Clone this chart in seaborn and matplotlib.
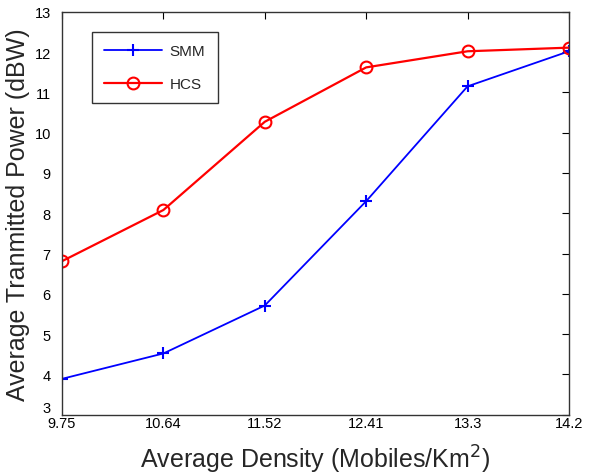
import matplotlib
matplotlib.use("Agg")
import matplotlib.pyplot as plt
import seaborn as sns
import pandas as pd
import numpy as np

density_labels = ["9.75", "10.64", "11.52", "12.41", "13.3", "14.2"]
smm_power = [3.89, 4.52, 5.71, 8.30, 11.15, 12.02]
hcs_power = [6.81, 8.08, 10.27, 11.62, 12.02, 12.11]

sns.set_style("white")
plt.rcParams['font.family'] = ['Liberation Sans', 'DejaVu Sans']

pos = np.arange(len(density_labels))
df = pd.DataFrame({
    "pos": np.concatenate([pos, pos]),
    "power": smm_power + hcs_power,
    "series": ["SMM"] * len(pos) + ["HCS"] * len(pos),
})

fig = plt.figure(figsize=(6.0, 4.77), dpi=100)
ax = fig.add_axes([0.1033, 0.1285, 0.845, 0.8447])

sns.lineplot(data=df[df.series == "SMM"], x="pos", y="power", ax=ax,
             color="#0000ff", marker="+", markersize=9, markeredgewidth=1.5,
             markeredgecolor="#0000ff", linewidth=1.3, label="SMM")
sns.lineplot(data=df[df.series == "HCS"], x="pos", y="power", ax=ax,
             color="#ff0000", marker="o", markersize=8.5, markerfacecolor="none",
             markeredgecolor="#ff0000", markeredgewidth=1.5,
             linewidth=1.6, label="HCS")

ax.set_xlim(0, len(pos) - 1)
ax.set_ylim(3, 13)
ax.set_xticks(pos)
ax.set_xticklabels(density_labels)
ax.set_yticks(range(3, 14))
ax.tick_params(direction="in", top=True, right=True, length=5, width=0.8,
               labelsize=10.5, colors="black")
ax.tick_params(axis="x", pad=1)
ax.tick_params(axis="y", pad=8)
for s in ax.spines.values():
    s.set_color("#333333")
    s.set_linewidth(1.0)

fig.canvas.draw()
ax.get_yticklabels()[0].set_verticalalignment("bottom")

ax.set_xlabel("Average Density (Mobiles/Km$^2$)", fontsize=18, labelpad=9)
ax.set_ylabel("Average Tranmitted Power (dBW)", fontsize=18, labelpad=3)

leg = ax.legend(loc="upper left", bbox_to_anchor=(0.059, 0.95), fontsize=11,
                frameon=True, fancybox=False, edgecolor="black",
                handlelength=3.8, borderpad=0.8, labelspacing=1.25,
                handletextpad=0.5, borderaxespad=0)
leg.get_frame().set_linewidth(1.0)

fig.savefig("out.png", dpi=100)
